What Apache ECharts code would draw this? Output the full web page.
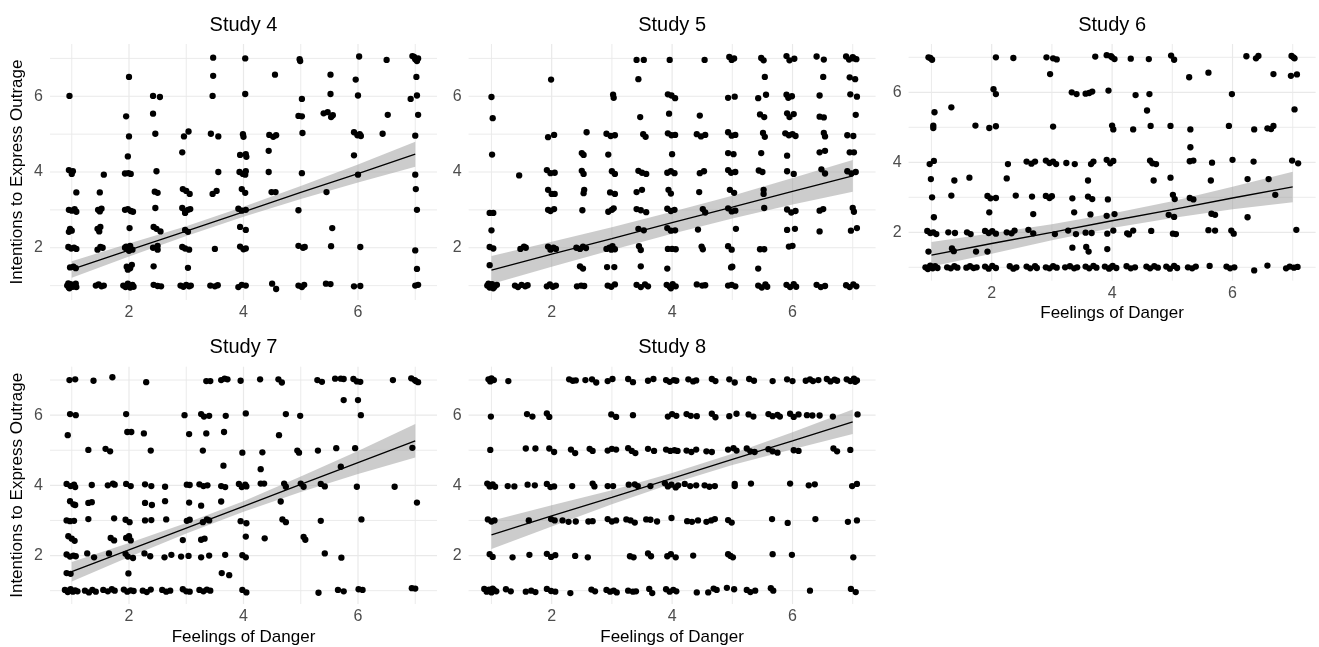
<!DOCTYPE html>
<html><head><meta charset="utf-8">
<script src="https://cdn.jsdelivr.net/npm/echarts@6/dist/echarts.min.js"></script>
<style>html,body{margin:0;padding:0;background:#fff}#c{width:1319px;height:647px}</style>
</head><body><div id="c"></div><script>
const studyNames = ['Study 4','Study 5','Study 6','Study 7','Study 8'];
const xTicks = [2,4,6];
const yTicks = [2,4,6];
const gridValues = [1,2,3,4,5,6,7];
const xTitle = 'Feelings of Danger';
const yTitle = 'Intentions to Express Outrage';

const study4 = [
[0.96,6.01],[0.95,4.05],[1.0,3.95],[1.02,4.02],[1.08,3.46],[0.95,3.0],[1.0,2.98],[1.05,3.02],[1.08,2.95],[0.97,2.5],[1.0,2.45],[0.95,2.42],[0.94,2.02],[0.99,1.98],[1.04,2.0],[1.08,1.97],[0.97,1.48],[1.03,1.5],[1.07,1.46],[0.92,1.0],[0.95,0.95],[0.98,1.04],[1.02,0.97],[1.05,1.02],[1.08,0.96],[0.94,1.06],[1.0,1.0],[1.07,1.05],[0.96,0.93],
[1.56,3.93],[1.49,3.46],[1.46,3.0],[1.52,3.03],[1.49,2.96],[1.45,2.5],[1.48,2.43],[1.5,2.55],[1.45,1.95],[1.5,2.02],[1.54,2.0],[1.42,1.0],[1.47,1.03],[1.52,0.98],[1.56,1.0],
[2.0,6.51],[1.95,5.47],[2.0,4.94],[1.98,4.41],[1.93,3.96],[1.99,3.97],[2.03,3.95],[1.93,3.0],[1.98,3.02],[2.03,2.97],[2.07,2.95],[2.01,2.52],[1.93,2.0],[1.97,1.97],[2.02,2.05],[2.06,1.95],[2.0,1.92],[1.95,2.03],[1.96,1.5],[2.02,1.46],[2.05,1.55],[1.98,1.42],[1.9,1.0],[1.94,0.96],[1.98,1.05],[2.02,0.95],[2.06,1.02],[2.08,0.97],[1.96,1.0],
[2.42,6.01],[2.54,5.98],[2.42,5.54],[2.46,5.01],[2.48,4.02],[2.45,3.48],[2.5,3.45],[2.46,3.05],[2.43,2.55],[2.48,2.5],[2.55,2.43],[2.42,2.0],[2.5,1.95],[2.5,2.05],[2.43,1.51],[2.43,1.02],[2.5,0.99],[2.56,0.98],
[3.04,5.07],[2.96,4.94],[2.93,4.52],[2.94,3.55],[3.0,3.5],[3.06,3.42],[2.93,3.05],[2.98,2.95],[3.03,3.0],[3.07,3.02],[2.98,2.92],[2.98,2.47],[3.03,2.42],[2.93,2.02],[2.98,1.98],[3.05,1.95],[3.03,1.47],[2.9,1.0],[2.95,0.97],[3.0,1.02],[3.05,0.98],[3.08,1.0],
[3.47,7.02],[3.47,6.54],[3.46,6.01],[3.43,5.01],[3.56,4.94],[3.56,4.0],[3.46,3.42],[3.53,3.5],[3.5,1.97],[3.42,1.0],[3.5,0.98],[3.55,1.01],
[4.03,7.0],[4.03,6.06],[3.99,5.0],[4.0,4.93],[3.94,4.45],[4.04,4.47],[4.05,4.4],[3.93,4.0],[3.99,3.95],[4.04,4.02],[4.03,3.93],[3.97,3.55],[4.03,3.45],[3.91,3.03],[3.97,2.98],[4.04,3.0],[3.94,2.55],[4.04,2.47],[3.94,2.03],[4.0,1.96],[4.04,1.98],[3.91,0.96],[3.97,1.02],[4.04,1.0],
[4.55,6.57],[4.45,4.98],[4.52,4.93],[4.57,4.97],[4.44,4.56],[4.44,4.0],[4.49,3.47],[4.56,3.47],[4.5,1.05],[4.57,0.91],
[4.98,6.98],[4.99,6.93],[5.02,5.93],[4.96,5.48],[5.02,5.47],[5.03,5.03],[5.02,3.97],[4.96,2.99],[4.96,2.05],[5.04,2.0],[5.07,2.02],[4.96,1.0],[5.02,0.96],[5.06,1.02],
[5.52,6.57],[5.52,6.06],[5.4,5.55],[5.47,5.58],[5.53,5.45],[5.56,5.5],[5.45,3.47],[5.55,2.52],[5.53,2.04],[5.44,1.05],[5.52,1.04],
[6.02,7.05],[5.96,6.44],[6.0,6.02],[5.93,5.05],[5.99,4.97],[6.03,5.0],[6.05,4.95],[5.93,4.44],[6.0,3.93],[6.04,2.02],[5.93,0.98],[6.04,0.99],
[6.5,6.96],[6.52,5.51],[6.43,5.01],
[6.95,7.06],[7.0,6.98],[7.05,7.0],[7.03,6.93],[6.98,7.04],[7.02,6.51],[6.92,5.93],[7.03,6.02],[7.05,5.51],[7.0,4.96],[7.0,3.93],[7.01,3.55],[7.03,3.0],[7.0,1.93],[7.03,1.44],[7.0,1.0],[7.05,1.02]
];

const study5 = [
[1.0,5.98],[1.02,5.42],[1.01,4.46],[0.97,2.92],[1.03,2.92],[1.0,2.46],[0.97,2.02],[1.03,1.98],[0.97,1.54],[0.93,1.0],[0.97,0.95],[1.01,1.04],[1.05,0.97],[1.09,1.02],[0.95,1.05],[1.03,0.93],
[1.46,3.91],[1.48,1.97],[1.54,2.03],[1.57,2.0],[1.39,1.0],[1.44,0.96],[1.5,1.02],[1.56,0.98],[1.6,1.01],
[1.99,6.44],[1.94,4.92],[2.04,4.98],[1.92,4.05],[1.98,3.97],[2.05,3.98],[1.94,3.53],[2.0,3.42],[2.05,3.42],[1.94,3.0],[2.04,3.02],[1.98,2.97],[1.94,2.03],[1.98,1.95],[2.03,2.0],[2.07,1.97],[1.92,0.98],[1.97,1.03],[2.02,0.97],[2.07,1.0],
[2.58,5.05],[2.5,4.5],[2.53,4.45],[2.5,4.03],[2.53,3.95],[2.54,3.53],[2.53,3.44],[2.51,2.99],[2.41,2.0],[2.47,1.97],[2.52,2.03],[2.57,1.99],[2.47,1.51],[2.52,1.45],[2.42,0.98],[2.49,1.0],[2.54,0.99],
[3.02,6.04],[3.03,5.96],[2.91,5.01],[2.98,4.95],[3.05,4.97],[2.94,4.46],[3.0,4.02],[3.05,3.95],[2.97,3.46],[3.05,3.42],[2.94,2.95],[3.0,3.0],[3.03,3.04],[2.91,1.97],[2.96,2.0],[3.01,2.04],[3.05,1.96],[2.99,1.95],[2.92,1.49],[3.04,1.49],[2.93,1.0],[2.99,0.97],[3.05,1.03],
[3.41,6.96],[3.53,6.96],[3.44,6.45],[3.47,5.45],[3.52,5.0],[3.56,4.93],[3.44,4.03],[3.5,3.98],[3.57,3.95],[3.41,3.47],[3.5,3.53],[3.41,3.02],[3.48,2.99],[3.57,2.94],[3.44,2.5],[3.53,2.46],[3.45,2.04],[3.48,1.94],[3.48,1.51],[3.41,1.02],[3.48,0.96],[3.55,1.03],[3.6,0.98],
[3.96,6.96],[3.93,6.05],[3.99,6.02],[4.05,5.95],[3.95,5.54],[3.93,5.02],[3.99,4.97],[4.05,4.98],[4.0,4.47],[3.92,3.98],[3.98,4.02],[4.04,3.97],[3.94,3.53],[3.98,3.43],[3.92,3.03],[3.98,2.97],[4.04,3.0],[3.92,2.52],[3.98,2.45],[4.05,2.46],[3.93,1.97],[4.0,1.97],[4.06,1.96],[3.92,1.45],[3.91,1.02],[3.96,0.97],[4.01,1.04],[4.06,0.98],[3.98,0.93],
[4.54,6.96],[4.46,5.49],[4.41,5.0],[4.48,4.94],[4.55,4.98],[4.46,3.97],[4.53,4.02],[4.45,3.47],[4.51,3.02],[4.55,2.93],[4.43,2.48],[4.49,2.03],[4.51,1.96],[4.41,1.03],[4.5,1.0],[4.55,1.01],
[4.95,7.04],[4.99,6.96],[5.03,7.0],[4.93,5.96],[5.04,5.99],[4.93,5.05],[4.99,4.96],[5.05,4.98],[4.93,4.5],[5.02,4.47],[4.93,4.05],[4.98,3.98],[5.05,4.0],[4.96,3.53],[5.03,3.45],[4.93,3.04],[4.99,2.96],[5.05,2.98],[5.06,2.5],[4.93,2.04],[4.99,1.95],[4.98,1.48],[5.0,1.5],[4.93,1.0],[4.99,1.02],[5.05,0.98],
[5.48,7.01],[5.52,6.95],[5.54,6.51],[5.43,5.95],[5.56,6.04],[5.46,5.52],[5.53,5.45],[5.51,5.03],[5.54,4.93],[5.48,4.5],[5.44,4.04],[5.5,4.0],[5.52,3.53],[5.52,3.42],[5.53,3.05],[5.46,1.96],[5.53,1.96],[5.43,1.45],[5.43,1.0],[5.49,0.95],[5.55,1.03],[5.58,0.97],
[5.9,7.06],[5.95,6.95],[6.03,6.99],[5.9,6.04],[5.93,5.96],[5.99,6.0],[5.91,5.55],[6.02,5.53],[5.95,5.45],[5.88,5.02],[5.94,4.97],[6.0,5.0],[6.05,4.95],[5.91,4.43],[5.91,4.02],[6.02,3.95],[5.91,3.01],[5.98,2.93],[6.05,2.97],[5.91,2.47],[6.04,2.5],[5.94,2.03],[6.0,2.05],[5.9,1.02],[5.96,0.96],[6.02,1.04],[6.06,0.97],
[6.4,7.05],[6.52,6.97],[6.51,6.51],[6.45,6.02],[6.45,5.46],[6.52,5.44],[6.52,5.03],[6.54,4.94],[6.45,4.52],[6.54,4.56],[6.48,4.07],[6.54,3.96],[6.45,2.98],[6.51,3.02],[6.45,2.43],[6.4,1.02],[6.47,0.96],[6.54,0.99],
[6.89,7.05],[6.94,6.97],[7.0,7.03],[7.06,6.98],[7.02,7.0],[6.95,6.5],[7.04,6.45],[6.96,6.05],[7.07,5.99],[7.05,5.51],[6.91,4.97],[7.01,4.95],[6.95,4.52],[7.02,4.52],[6.91,4.02],[6.98,3.96],[7.05,4.0],[7.0,3.05],[7.02,2.95],[6.97,2.45],[7.07,2.52],[6.89,1.01],[6.95,0.96],[7.01,1.03],[7.06,0.98]
];

const study6 = [
[0.95,7.0],[1.01,6.93],[0.98,6.98],[1.05,5.43],[1.03,5.05],[1.03,4.98],[0.97,3.95],[1.04,4.04],[0.99,3.52],[1.01,3.0],[1.04,2.43],[0.93,2.04],[0.98,1.98],[1.03,2.0],[1.08,1.95],[0.95,1.45],[0.9,1.0],[0.94,0.95],[0.98,1.05],[1.02,0.97],[1.06,1.03],[1.1,0.98],[0.96,1.0],
[1.33,5.57],[1.38,3.48],[1.33,3.05],[1.28,2.0],[1.39,1.98],[1.34,1.54],[1.37,1.46],[1.26,1.0],[1.32,0.97],[1.38,1.03],[1.43,0.99],
[1.73,5.05],[1.63,3.56],[1.59,2.0],[1.65,1.95],[1.74,1.45],[1.58,0.99],[1.64,1.03],[1.7,0.98],[1.75,1.0],
[2.07,7.0],[2.03,6.09],[2.07,5.95],[1.96,4.98],[2.07,5.03],[1.93,3.04],[1.98,2.97],[2.07,2.98],[1.96,2.57],[1.89,2.04],[1.95,1.98],[2.01,2.03],[2.07,1.96],[1.93,1.45],[1.89,1.02],[1.95,0.96],[2.01,1.04],[2.07,0.98],
[2.36,6.98],[2.25,3.54],[2.27,3.95],[2.4,3.05],[2.25,2.0],[2.38,2.05],[2.33,1.97],[2.3,1.03],[2.36,0.96],[2.41,1.0],
[2.58,4.02],[2.66,3.96],[2.72,4.02],[2.67,3.02],[2.69,2.52],[2.61,2.07],[2.69,1.97],[2.58,1.02],[2.64,0.97],[2.72,1.03],[2.75,0.98],
[2.91,7.0],[3.02,6.97],[3.08,6.94],[2.97,6.52],[3.02,5.02],[2.9,4.05],[2.96,3.98],[3.02,4.02],[3.07,3.95],[2.9,3.04],[3.0,3.03],[2.96,2.98],[3.05,1.95],[2.9,1.0],[2.96,0.97],[3.02,1.03],[3.08,0.99],
[3.33,6.0],[3.41,5.95],[3.24,3.98],[3.38,3.95],[3.34,2.97],[3.37,2.57],[3.27,2.05],[3.4,1.95],[3.34,1.56],[3.22,1.0],[3.3,1.03],[3.37,0.97],[3.42,1.0],
[3.56,5.96],[3.62,5.98],[3.67,6.02],[3.72,7.02],[3.65,3.95],[3.69,4.02],[3.6,3.48],[3.6,3.02],[3.67,2.95],[3.64,2.51],[3.56,1.99],[3.66,1.98],[3.57,1.58],[3.61,1.45],[3.56,1.02],[3.62,0.97],[3.69,1.04],[3.74,0.99],
[3.91,7.06],[3.98,7.03],[4.04,6.95],[4.0,7.0],[3.94,6.05],[4.0,5.05],[4.02,4.94],[3.91,4.07],[3.97,3.97],[4.02,4.04],[3.93,2.94],[3.91,2.47],[4.04,2.52],[3.92,1.52],[3.92,1.96],[4.02,2.05],[3.88,1.02],[3.95,0.96],[4.01,1.04],[4.07,0.98],[3.98,1.0],
[4.31,6.96],[4.39,5.92],[4.35,4.94],[4.25,1.97],[4.35,2.05],[4.28,1.94],[4.24,1.03],[4.31,0.97],[4.38,1.0],
[4.61,6.95],[4.62,5.95],[4.58,5.48],[4.64,5.04],[4.63,4.05],[4.67,3.97],[4.73,3.95],[4.69,3.48],[4.65,2.04],[4.57,1.02],[4.63,0.97],[4.7,1.03],[4.76,0.99],
[4.98,7.05],[5.03,6.93],[4.97,5.04],[4.97,3.56],[5.01,3.07],[5.04,2.95],[4.94,2.5],[5.03,2.44],[5.01,1.96],[5.06,1.95],[4.9,1.02],[4.96,0.96],[5.03,1.04],[5.08,0.98],
[5.28,6.43],[5.3,4.94],[5.3,4.43],[5.29,4.03],[5.35,4.05],[5.29,2.98],[5.35,2.94],[5.26,1.0],[5.33,0.97],[5.39,1.02],
[5.6,6.56],[5.66,3.99],[5.64,3.48],[5.65,2.53],[5.71,2.5],[5.6,2.06],[5.71,2.05],[5.62,1.04],
[5.99,5.95],[5.94,5.04],[6.0,4.07],[5.98,2.05],[6.02,1.96],[5.9,1.02],[5.96,0.97],[6.03,1.0],
[6.23,7.03],[6.39,6.97],[6.43,7.04],[6.35,4.02],[6.25,3.52],[6.25,2.43],[6.36,4.94],[6.36,0.91],
[6.58,1.05],[6.68,6.52],[6.58,4.97],[6.64,4.95],[6.68,5.04],[6.6,3.52],[6.71,3.07],
[6.98,7.04],[7.03,6.97],[7.01,7.0],[6.97,6.47],[7.07,6.51],[7.03,5.51],[6.99,4.05],[7.09,3.97],[7.06,2.07],[6.89,0.97],[6.95,1.02],[7.02,0.99],[7.08,1.01]
];

const study7 = [
[0.96,7.0],[1.06,7.02],[0.93,5.43],[0.97,6.03],[1.07,6.0],[0.91,4.04],[0.98,3.98],[1.04,4.02],[1.06,3.95],[0.97,3.55],[1.03,3.46],[1.06,3.44],[0.91,3.0],[0.97,2.98],[1.04,2.99],[0.94,2.55],[1.0,2.48],[1.05,2.42],[0.91,2.03],[0.97,1.97],[1.03,2.0],[1.07,1.98],[0.91,1.5],[0.98,1.48],[0.88,1.02],[0.93,0.96],[0.98,1.04],[1.02,0.97],[1.06,1.01],[1.1,0.98],[0.95,1.0],
[1.38,6.98],[1.29,5.01],[1.29,3.5],[1.35,3.52],[1.29,3.04],[1.27,2.06],[1.39,1.95],[1.35,4.01],[1.23,1.0],[1.3,0.95],[1.36,1.02],[1.42,0.97],
[1.71,7.08],[1.59,5.04],[1.67,4.97],[1.63,4.0],[1.72,4.05],[1.75,4.02],[1.74,3.06],[1.68,2.5],[1.74,2.43],[1.65,2.06],[1.55,1.02],[1.63,0.98],[1.7,1.04],[1.75,1.0],
[1.95,6.03],[1.97,5.52],[2.04,5.52],[1.95,4.04],[2.03,3.98],[1.94,3.02],[2.01,2.95],[1.95,2.5],[2.03,2.43],[2.0,2.55],[1.94,2.05],[1.98,1.97],[2.07,1.93],[1.99,1.49],[1.91,1.03],[1.97,0.97],[2.03,1.01],[2.08,0.99],
[2.3,6.94],[2.26,5.48],[2.38,4.99],[2.28,4.03],[2.39,3.98],[2.28,3.5],[2.4,3.44],[2.28,3.0],[2.39,3.01],[2.27,2.06],[2.37,1.98],[2.24,1.0],[2.31,0.96],[2.38,1.03],
[2.63,3.96],[2.63,3.55],[2.65,3.03],[2.62,1.95],[2.74,2.02],[2.58,1.02],[2.65,0.97],[2.72,1.0],
[2.97,6.0],[3.05,5.46],[3.01,4.02],[3.06,4.01],[3.05,3.51],[3.01,2.99],[3.06,3.02],[2.94,2.44],[2.91,1.97],[3.04,1.99],[2.94,1.04],[3.0,0.98],[3.06,0.97],
[3.26,6.03],[3.31,5.96],[3.4,5.98],[3.35,5.48],[3.29,4.99],[3.23,4.03],[3.3,3.98],[3.37,4.0],[3.26,3.42],[3.29,2.95],[3.36,3.03],[3.4,3.0],[3.26,2.45],[3.32,2.48],[3.26,1.95],[3.4,2.0],[3.23,1.02],[3.3,0.98],[3.36,1.03],[3.42,1.0],
[3.35,6.97],[3.42,6.97],[3.61,7.0],[3.67,7.04],[3.72,7.02],[3.69,5.98],[3.66,5.52],[3.65,4.56],[3.61,3.98],[3.68,3.95],[3.61,3.54],[3.68,2.02],[3.62,1.5],[3.75,1.44],
[3.95,6.98],[4.04,6.05],[3.98,4.93],[3.92,4.04],[3.97,3.95],[4.03,4.02],[4.05,3.97],[3.95,2.98],[4.05,2.92],[4.04,2.54],[3.98,2.01],[4.04,1.95],[3.98,1.02],[4.05,0.95],
[4.29,7.02],[4.33,4.94],[4.3,4.46],[4.3,4.05],[4.36,4.05],[4.37,2.49],
[4.61,7.02],[4.67,6.93],[4.74,6.03],[4.62,5.43],[4.65,3.54],[4.71,4.05],[4.74,3.96],[4.68,3.03],[4.74,2.95],
[4.99,5.98],[4.94,4.99],[4.97,4.93],[5.0,4.05],[5.05,3.96],[5.05,2.53],[5.08,2.45],
[5.29,7.0],[5.37,6.95],[5.3,4.99],[5.35,4.04],[5.42,3.97],[5.35,2.99],[5.42,2.06],[5.31,0.94],
[5.6,7.04],[5.7,7.04],[5.75,7.03],[5.75,6.43],[5.62,5.06],[5.7,4.53],[5.71,1.94],[5.65,1.02],[5.75,0.98],
[5.92,7.03],[5.98,6.96],[6.04,6.95],[6.0,6.43],[6.05,6.0],[5.95,5.06],[5.98,3.96],[6.06,3.03],[6.01,1.04],[6.08,1.02],
[6.61,7.0],[6.64,3.96],
[6.93,7.05],[6.99,7.0],[7.05,6.94],[7.01,6.97],[6.95,5.07],[7.03,3.51],[6.94,1.07],[7.0,1.06]
];

const study8 = [
[0.95,7.02],[0.98,6.96],[1.04,7.0],[1.0,7.05],[1.28,6.97],[2.29,7.02],[2.35,6.98],[2.4,6.99],[2.56,7.0],[2.67,7.02],[2.74,6.93],[2.93,6.97],[3.01,7.03],[3.27,7.03],[3.35,6.94],[3.6,6.98],[3.69,7.03],[3.9,7.0],[3.96,6.95],[4.03,7.0],[4.07,6.98],[4.27,7.02],[4.35,6.96],[4.4,6.99],[4.66,7.03],[4.72,6.97],[4.95,7.02],[5.04,6.93],[5.28,7.03],[5.36,6.98],[5.67,6.97],[5.91,7.02],[6.0,6.97],[6.22,6.98],[6.29,7.02],[6.34,6.97],[6.43,7.0],[6.57,7.03],[6.63,6.96],[6.7,7.01],[6.74,6.98],[6.9,7.02],[6.96,6.97],[7.02,7.04],[7.07,6.99],[7.04,6.95],
[0.99,5.96],[1.59,6.03],[1.68,5.96],[1.92,6.05],[1.96,5.95],[2.99,6.02],[3.07,5.95],[3.35,6.0],[3.93,5.96],[4.0,6.03],[4.07,5.98],[4.24,6.03],[4.31,5.98],[4.41,5.97],[4.66,6.04],[4.72,5.94],[4.95,5.97],[5.07,6.04],[5.27,6.02],[5.35,5.96],[5.6,6.03],[5.67,5.97],[5.75,6.01],[5.79,5.96],[5.96,6.04],[6.02,5.95],[6.1,6.02],[6.24,6.0],[6.33,5.99],[6.45,5.99],[6.67,5.96],[7.08,6.02],
[0.98,5.01],[1.57,5.05],[1.73,5.05],[1.96,5.05],[2.04,4.95],[2.32,5.02],[2.39,4.92],[2.63,5.04],[2.68,4.98],[2.93,4.99],[3.0,5.04],[3.07,5.02],[3.27,5.06],[3.33,4.98],[3.39,4.92],[3.6,5.04],[3.7,4.98],[3.9,5.02],[3.97,4.98],[4.04,5.0],[4.09,4.98],[4.24,4.99],[4.32,4.95],[4.4,5.02],[4.57,4.97],[4.66,4.95],[4.93,5.02],[5.02,5.06],[5.07,4.99],[5.24,5.05],[5.3,4.97],[5.37,4.95],[5.6,5.03],[5.67,4.97],[5.75,4.93],[6.02,5.0],[6.1,4.98],[6.68,5.05],[6.74,4.97],[6.96,5.01],
[0.93,4.05],[0.97,3.97],[1.02,4.03],[1.06,3.96],[0.99,4.0],[1.27,3.98],[1.38,3.97],[1.6,4.02],[1.72,4.0],[1.92,4.04],[1.98,3.95],[2.04,3.97],[2.34,3.98],[2.68,4.05],[2.71,3.97],[2.93,3.98],[3.02,3.98],[3.28,4.02],[3.38,4.03],[3.43,3.98],[3.64,3.98],[3.88,4.06],[3.93,3.97],[3.99,4.02],[4.06,3.94],[4.1,4.0],[4.21,4.04],[4.3,3.98],[4.4,4.0],[4.54,4.0],[4.62,3.96],[4.71,3.98],[5.04,4.04],[5.04,3.98],[5.31,4.05],[5.96,4.05],[6.27,4.0],[6.37,4.03],[6.99,3.98],[7.07,4.04],
[0.94,3.03],[1.0,2.97],[1.05,3.0],[1.62,3.0],[1.99,3.04],[2.05,3.0],[2.18,3.0],[2.28,2.96],[2.4,2.97],[2.61,2.97],[2.68,2.98],[2.93,3.04],[3.0,2.97],[3.07,3.0],[3.24,3.03],[3.31,3.0],[3.38,2.94],[3.57,3.03],[3.64,3.02],[3.75,2.97],[3.99,3.07],[4.25,2.98],[4.33,2.96],[4.43,3.0],[4.57,2.96],[4.65,3.0],[4.71,3.04],[4.93,3.01],[4.99,2.94],[5.66,3.04],[5.92,2.93],[6.38,3.04],[6.92,2.96],[7.07,3.0],
[0.97,2.04],[1.02,1.96],[1.35,1.95],[1.63,2.02],[1.92,2.05],[1.99,1.96],[2.06,2.01],[2.39,1.99],[2.6,1.95],[3.3,1.98],[3.36,1.95],[3.6,2.06],[3.65,1.98],[3.92,1.98],[3.98,2.04],[4.06,1.95],[4.35,2.0],[4.93,2.04],[5.01,1.95],[4.97,1.99],[5.67,2.04],[5.99,2.02],[7.01,1.95],
[0.88,1.05],[0.92,0.97],[0.96,1.03],[1.0,0.95],[1.04,1.02],[1.08,0.98],[0.94,1.0],[1.02,1.06],[1.24,1.04],[1.32,0.98],[1.57,0.97],[1.66,1.0],[1.73,0.96],[1.92,1.05],[1.99,0.99],[2.06,0.97],[2.31,0.93],[2.66,1.03],[2.72,0.98],[2.91,1.02],[2.97,0.97],[3.03,1.0],[3.08,0.95],[3.27,1.0],[3.35,0.97],[3.4,0.98],[3.62,1.05],[3.67,0.93],[3.9,1.04],[3.96,0.97],[4.02,1.02],[4.07,0.98],[4.41,0.95],[4.6,0.95],[4.69,1.06],[4.74,1.02],[4.91,1.08],[5.03,1.04],[5.24,1.02],[5.3,0.96],[5.38,1.0],[5.64,1.07],[5.68,1.0],[6.29,1.0],[6.97,1.05],[7.05,0.96]
];

// fitted line and confidence band: [x, fit, lower, upper]
const fit4 = [[1,1.43,1.21,1.64],[2,1.94,1.77,2.11],[3,2.44,2.31,2.57],[4,2.95,2.82,3.08],[5,3.46,3.29,3.63],[6,3.96,3.72,4.20],[7,4.47,4.14,4.80]];
const fit5 = [[1,1.41,1.04,1.78],[2,1.83,1.50,2.16],[3,2.24,1.94,2.54],[4,2.66,2.37,2.95],[5,3.07,2.77,3.37],[6,3.49,3.14,3.84],[7,3.90,3.48,4.32]];
const fit6 = [[1,1.35,1.02,1.72],[2,1.68,1.39,1.97],[3,2.00,1.77,2.23],[4,2.33,2.12,2.54],[5,2.65,2.41,2.89],[6,2.98,2.66,3.30],[7,3.30,2.86,3.73]];
const fit7 = [[1,1.54,1.26,1.82],[2,2.16,1.96,2.36],[3,2.78,2.63,2.93],[4,3.40,3.25,3.55],[5,4.03,3.81,4.25],[6,4.65,4.32,4.98],[7,5.27,4.79,5.75]];
const fit8 = [[1,2.59,2.19,2.99],[2,3.13,2.83,3.43],[3,3.66,3.46,3.86],[4,4.20,4.05,4.35],[5,4.74,4.58,4.90],[6,5.27,5.03,5.51],[7,5.81,5.46,6.16]];

const pointSets = [study4, study5, study6, study7, study8];
const fits = [fit4, fit5, fit6, fit7, fit8];

// ---- layout / styling ----
const FONT = '"Liberation Sans", Arial, Helvetica, sans-serif';
const AX_MIN = 0.62, AX_MAX = 7.38;
const layout = [
  {left:50, top:44, width:387, height:256},
  {left:468.6, top:44, width:407, height:256},
  {left:908.6, top:44, width:407, height:236.6},
  {left:50, top:366.7, width:387, height:237.3},
  {left:468.6, top:366.7, width:407, height:237.3}
];

const grids = [], xAxes = [], yAxes = [], series = [], graphics = [];
layout.forEach((L, i) => {
  grids.push({left:L.left, top:L.top, width:L.width, height:L.height, containLabel:false, outerBoundsMode:'none'});
  xAxes.push({gridIndex:i, type:'value', min:AX_MIN, max:AX_MAX,
    axisLine:{show:false}, axisTick:{show:false}, splitLine:{show:false},
    axisLabel:{customValues:xTicks, margin:5, fontSize:16, color:'#4d4d4d', fontFamily:FONT}});
  yAxes.push({gridIndex:i, type:'value', min:AX_MIN, max:AX_MAX,
    axisLine:{show:false}, axisTick:{show:false}, splitLine:{show:false},
    axisLabel:{customValues:yTicks, margin:7, fontSize:16, color:'#4d4d4d', fontFamily:FONT}});
  // gridlines
  series.push({type:'custom', xAxisIndex:i, yAxisIndex:i, silent:true, z:0,
    data: gridValues.map(v => [v, v]), encode:{x:0, y:1},
    renderItem: (params, api) => {
      const cs = params.coordSys; const v = api.value(0);
      const p = api.coord([v, v]);
      const st = {stroke:'#e9e9e9', lineWidth: (v % 2 === 0) ? 1.2 : 0.9};
      return {type:'group', children:[
        {type:'line', shape:{x1:p[0], y1:cs.y, x2:p[0], y2:cs.y+cs.height}, style:st},
        {type:'line', shape:{x1:cs.x, y1:p[1], x2:cs.x+cs.width, y2:p[1]}, style:st}
      ]};
    }});
  // confidence band
  const fit = fits[i];
  series.push({type:'custom', xAxisIndex:i, yAxisIndex:i, silent:true, z:1,
    data:[[fit[0][0], fit[0][1]]], encode:{x:0, y:1},
    renderItem: (params, api) => {
      const upper = fit.map(r => api.coord([r[0], r[3]]));
      const lower = fit.map(r => api.coord([r[0], r[2]])).reverse();
      return {type:'polygon', shape:{points: upper.concat(lower)}, style:{fill:'rgba(153,153,153,0.5)'}};
    }});
  // points
  series.push({type:'scatter', xAxisIndex:i, yAxisIndex:i, z:2, symbolSize:6.3,
    itemStyle:{color:'#000', opacity:1}, data: pointSets[i], silent:true});
  // fit line
  series.push({type:'line', xAxisIndex:i, yAxisIndex:i, z:3, symbol:'none', silent:true,
    lineStyle:{color:'#000', width:1.3}, data: fit.map(r => [r[0], r[1]])});
  // panel title
  graphics.push({type:'text', x: L.left + L.width/2, y: L.top - 19,
    style:{text: studyNames[i], fill:'#000', fontSize:20, fontFamily:FONT, align:'center', verticalAlign:'middle', textAlign:'center', textVerticalAlign:'middle'}});
});
// axis titles
const xTitlePanels = [2, 3, 4];
xTitlePanels.forEach(i => {
  const L = layout[i];
  graphics.push({type:'text', x: L.left + L.width/2, y: L.top + L.height + 33,
    style:{text: xTitle, fill:'#000', fontSize:17, fontFamily:FONT, align:'center', verticalAlign:'middle', textAlign:'center', textVerticalAlign:'middle'}});
});
[0, 3].forEach(i => {
  const L = layout[i];
  graphics.push({type:'text', x: 17, y: L.top + L.height/2, rotation: Math.PI/2,
    style:{text: yTitle, fill:'#000', fontSize:17, fontFamily:FONT, align:'center', verticalAlign:'middle', textAlign:'center', textVerticalAlign:'middle'}});
});

const chart = echarts.init(document.getElementById('c'), null, {renderer:'canvas'});
chart.setOption({
  animation:false, backgroundColor:'#fff',
  grid: grids, xAxis: xAxes, yAxis: yAxes, series: series, graphic: graphics
});
</script></body></html>
